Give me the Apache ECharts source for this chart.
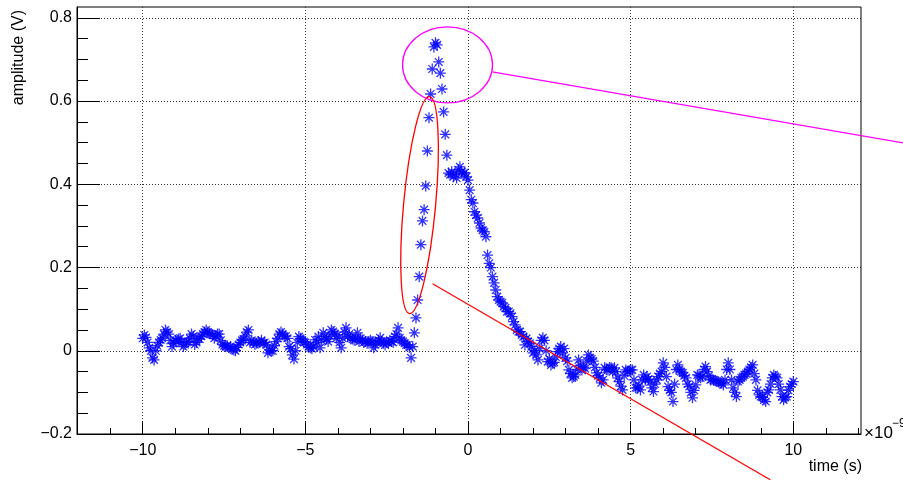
<!DOCTYPE html>
<html>
<head>
<meta charset="utf-8">
<script src="https://cdn.jsdelivr.net/npm/echarts@6/dist/echarts.min.js"></script>
<style>
  html, body { margin: 0; padding: 0; background: #fff; }
  #chart { width: 903px; height: 480px; }
</style>
</head>
<body>
<div id="chart"></div>
<script>
// waveform sampling, in ns (axis is labelled in units of 1e-9 s)
const tStart = -10;
const tStep = 0.05;

// amplitude (V), one value per sample
const preTrigger = [
  0.03, 0.038, 0.032, 0.02, 0.007, 0.0, -0.017, -0.022, 0.0, 0.012,
  0.02, 0.026, 0.03, 0.04, 0.05, 0.045, 0.04, 0.025, 0.01, 0.018,
  0.025, 0.022, 0.028, 0.03, 0.02, 0.01, 0.015, 0.02, 0.022, 0.03,
  0.04, 0.035, 0.015, 0.02, 0.03, 0.028, 0.035, 0.04, 0.045, 0.05,
  0.045, 0.042, 0.04, 0.038, 0.03, 0.035, 0.04, 0.04, 0.025, 0.015,
  0.012, 0.01, 0.012, 0.008, 0.01, 0.005, 0.002, 0.0, 0.008, 0.015,
  0.02, 0.025, 0.028, 0.035, 0.045, 0.05, 0.02, 0.025, 0.02, 0.015,
  0.018, 0.022, 0.02, 0.025, 0.018, 0.02, 0.015, -0.005, 0.002, 0.0,
  0.0, 0.012, 0.022, 0.03, 0.04, 0.045, 0.04, 0.035, 0.035, 0.03,
  0.01, 0.005, -0.01, -0.02, 0.0, 0.02, 0.034, 0.03, 0.026, 0.022,
  0.02, 0.015, 0.01, 0.007, 0.005, 0.01, 0.026, 0.02, 0.034, 0.007,
  0.025, 0.043, 0.034, 0.028, 0.022, 0.035, 0.05, 0.046, 0.04, 0.03,
  0.038, 0.02, 0.007, 0.03, 0.045, 0.055, 0.034, 0.04, 0.031, 0.028,
  0.025, 0.031, 0.043, 0.022, 0.03, 0.026, 0.02, 0.022, 0.018, 0.022,
  0.025, 0.022, 0.007, 0.015, 0.02, 0.025, 0.031, 0.022, 0.018, 0.014,
  0.02, 0.02, 0.025, 0.022, 0.02, 0.034, 0.04, 0.055, 0.031, 0.025,
  0.022, 0.018, 0.014, 0.014, 0.008, -0.017, 0.01
];
const pulse = [
  0.043, 0.079, 0.122,
  0.178, 0.255, 0.312, 0.339, 0.396, 0.48, 0.56, 0.617, 0.677, 0.73,
  0.74, 0.735, 0.694, 0.667, 0.629, 0.574, 0.52, 0.47, 0.427, 0.423,
  0.43, 0.418, 0.425, 0.415, 0.435, 0.442, 0.43, 0.425, 0.428, 0.418,
  0.41, 0.386, 0.363, 0.355, 0.334, 0.326, 0.319, 0.307, 0.295, 0.29,
  0.286, 0.274, 0.23, 0.21, 0.2, 0.178, 0.163, 0.146, 0.13, 0.122,
  0.118, 0.115, 0.106, 0.103, 0.094, 0.094, 0.09, 0.082, 0.07, 0.062,
  0.05, 0.046, 0.046, 0.038, 0.034, 0.014, 0.03, 0.022, 0.018, 0.01,
  -0.005, 0.0, -0.01, -0.022, 0.005, 0.025, 0.031, 0.025, 0.0, -0.026
];
const tail = [
  -0.02, -0.034, -0.03, -0.028, -0.015, -0.002, 0.005, 0.01, -0.005, 0.005,
  -0.017, -0.025, -0.046, -0.055, -0.065, -0.062, -0.058, -0.045, -0.022, -0.035,
  -0.046, -0.04, -0.043, -0.025, -0.01, -0.017, -0.02, -0.025, -0.04, -0.053,
  -0.06, -0.065, -0.077, -0.07, -0.041, -0.045, -0.046, -0.04, -0.041, -0.05,
  -0.041, -0.05, -0.065, -0.074, -0.085, -0.094, -0.06, -0.046, -0.05, -0.048,
  -0.046, -0.046, -0.07, -0.089, -0.089, -0.085, -0.094, -0.07, -0.058, -0.07,
  -0.062, -0.068, -0.075, -0.089, -0.098, -0.08, -0.07, -0.062, -0.055, -0.05,
  -0.029, -0.04, -0.062, -0.086, -0.095, -0.1, -0.122, -0.08, -0.045, -0.034,
  -0.045, -0.05, -0.053, -0.06, -0.065, -0.08, -0.086, -0.1, -0.113, -0.095,
  -0.082, -0.058, -0.06, -0.065, -0.062, -0.045, -0.038, -0.05, -0.06, -0.07,
  -0.068, -0.07, -0.072, -0.074, -0.075, -0.076, -0.078, -0.082, -0.07, -0.045,
  -0.029, -0.045, -0.07, -0.089, -0.1, -0.11, -0.074, -0.07, -0.065, -0.062,
  -0.058, -0.055, -0.05, -0.045, -0.04, -0.034, -0.055, -0.07, -0.095, -0.106,
  -0.11, -0.112, -0.118, -0.122, -0.1, -0.094, -0.08, -0.065, -0.058, -0.062,
  -0.065, -0.08, -0.094, -0.11, -0.118, -0.112, -0.11, -0.095, -0.086, -0.08,
  -0.074
];

// axis ticks
const xMajorTicks = [-10, -5, 0, 5, 10];
const xMinorTicks = [-11, -10, -9, -8, -7, -6, -5, -4, -3, -2, -1, 0, 1, 2, 3, 4, 5, 6, 7, 8, 9, 10, 11, 12];
const yMajorTicks = [-0.2, 0, 0.2, 0.4, 0.6, 0.8];
const yMinorTicks = [-0.15, -0.1, -0.05, 0.05, 0.1, 0.15, 0.25, 0.3, 0.35, 0.45, 0.5, 0.55, 0.65, 0.7, 0.75];

const amplitude = preTrigger.concat(pulse, tail);
const points = amplitude.map((v, i) => [+(tStart + i * tStep).toFixed(2), v]);

const FONT = 'Liberation Sans, Arial, Helvetica, sans-serif';
const minus = v => String(v).replace('-', '\u2212');
const asterisk = 'path://M5,0L5,10M0,5L10,5M1.5,1.5L8.5,8.5M1.5,8.5L8.5,1.5';

const dom = document.getElementById('chart');
const myChart = echarts.init(dom, null, { renderer: 'canvas' });

const xRange = { min: -12.02, max: 12.08 };
const yRange = { min: -0.2, max: 0.826 };

const option = {
  animation: false,
  grid: {
    left: 77, right: 42, top: 7, bottom: 46,
    show: true, borderColor: '#000', borderWidth: 1
  },
  xAxis: [
    {
      type: 'value', position: 'bottom', ...xRange,
      axisLine: { show: true, onZero: false, lineStyle: { color: '#000', width: 1 } },
      axisTick: { show: true, inside: true, length: 12, customValues: xMajorTicks, lineStyle: { color: '#000' } },
      axisLabel: { customValues: xMajorTicks, formatter: minus, color: '#000', fontFamily: FONT, fontSize: 16, margin: 9 },
      splitLine: { show: true, lineStyle: { color: '#333', type: [1, 2], width: 1 } }
    },
    {
      // minor ticks only
      type: 'value', position: 'bottom', ...xRange,
      axisLine: { show: false, onZero: false },
      axisTick: { show: true, inside: true, length: 6, customValues: xMinorTicks, lineStyle: { color: '#000' } },
      axisLabel: { show: false },
      splitLine: { show: false }
    }
  ],
  yAxis: [
    {
      type: 'value', position: 'left', ...yRange,
      axisLine: { show: true, onZero: false, lineStyle: { color: '#000', width: 1 } },
      axisTick: { show: true, inside: true, length: 23, customValues: yMajorTicks, lineStyle: { color: '#000' } },
      axisLabel: { customValues: yMajorTicks, formatter: minus, color: '#000', fontFamily: FONT, fontSize: 16, margin: 5 },
      splitLine: { show: true, lineStyle: { color: '#333', type: [1, 2], width: 1 } }
    },
    {
      // minor ticks only
      type: 'value', position: 'left', ...yRange,
      axisLine: { show: false, onZero: false },
      axisTick: { show: true, inside: true, length: 11, customValues: yMinorTicks, lineStyle: { color: '#000' } },
      axisLabel: { show: false },
      splitLine: { show: false }
    }
  ],
  series: [
    {
      type: 'scatter',
      xAxisIndex: 0, yAxisIndex: 0,
      symbol: asterisk,
      symbolSize: 11,
      itemStyle: { color: 'rgba(0,0,0,0)', borderColor: '#0000ff', borderWidth: 1.3 },
      emphasis: { disabled: true },
      data: points
    }
  ]
};

myChart.setOption(option);

// annotations drawn on top of the plot (data coordinates)
const px = p => myChart.convertToPixel({ xAxisIndex: 0, yAxisIndex: 0 }, p);
const peakC = px([-0.63, 0.687]);
const riseC = px([-1.49, 0.35]);
const magA = px([0.75, 0.67]), magB = px([13.38, 0.4994]);
const redA = px([-1.09, 0.161]), redB = px([9.29, -0.31]);

myChart.setOption({
  graphic: [
    { type: 'ellipse', x: peakC[0], y: peakC[1], shape: { cx: 0, cy: 0, rx: 45, ry: 38 },
      style: { fill: null, stroke: '#ff00ff', lineWidth: 1.3 }, z: 100 },
    { type: 'line', shape: { x1: magA[0], y1: magA[1], x2: magB[0], y2: magB[1] },
      style: { stroke: '#ff00ff', lineWidth: 1.2 }, z: 100 },
    { type: 'ellipse', x: riseC[0], y: riseC[1], rotation: -0.092, shape: { cx: 0, cy: 0, rx: 16, ry: 109 },
      style: { fill: null, stroke: '#ff0000', lineWidth: 1.3 }, z: 100 },
    { type: 'line', shape: { x1: redA[0], y1: redA[1], x2: redB[0], y2: redB[1] },
      style: { stroke: '#ff0000', lineWidth: 1.2 }, z: 100 },
    { type: 'text', x: 19, y: 10, rotation: Math.PI / 2,
      style: { text: 'amplitude (V)', font: '16px ' + FONT, fill: '#000', textAlign: 'right', textVerticalAlign: 'middle' } },
    { type: 'text', x: 862, y: 467,
      style: { text: 'time (s)', font: '16px ' + FONT, fill: '#000', textAlign: 'right', textVerticalAlign: 'middle' } },
    { type: 'text', x: 864, y: 433,
      style: { text: '\u00d710', font: '17px ' + FONT, fill: '#000', textAlign: 'left', textVerticalAlign: 'middle' } },
    { type: 'text', x: 892, y: 424,
      style: { text: '\u22129', font: '12px ' + FONT, fill: '#000', textAlign: 'left', textVerticalAlign: 'middle' } }
  ]
});

window.addEventListener('resize', myChart.resize);
</script>
</body>
</html>
